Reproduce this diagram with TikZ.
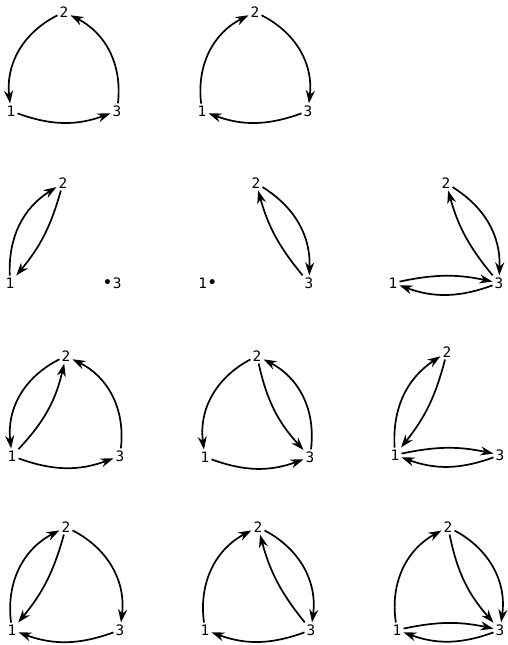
\documentclass[tikz,border=0pt]{standalone}
\usepackage{fontspec}
\newfontfamily\lblfont{DejaVu Sans Mono}
\usetikzlibrary{arrows.meta}
\tikzset{
  vtx/.style={inner sep=2pt, font=\lblfont\Large},
  arc/.style={->, line width=1.7pt}
}
\begin{document}
\begin{tikzpicture}[x=1pt, y=1pt, >={Stealth[length=13pt,width=9pt]}]
  \useasboundingbox (0,0) rectangle (507,645);
  \begin{scope}[shift={(64,534)}]
    \node[vtx] (a1) at (-53,0) {1};
    \node[vtx] (a2) at (0,99) {2};
    \node[vtx] (a3) at (53,0) {3};
    \draw[arc] (a2) to[bend right=35] (a1);
    \draw[arc] (a3) to[bend right=35] (a2);
    \draw[arc] (a1) to[bend right=20] (a3);
  \end{scope}
  \begin{scope}[shift={(255,534)}]
    \node[vtx] (b1) at (-53,0) {1};
    \node[vtx] (b2) at (0,99) {2};
    \node[vtx] (b3) at (53,0) {3};
    \draw[arc] (b1) to[bend left=35] (b2);
    \draw[arc] (b2) to[bend left=35] (b3);
    \draw[arc] (b3) to[bend left=20] (b1);
  \end{scope}
  \begin{scope}[shift={(63,362)}]
    \node[vtx] (c1) at (-53,0) {1};
    \node[vtx] (c2) at (0,100) {2};
    \node[vtx] (c3) at (49,0) {{\LARGE•}3};
    \draw[arc] (c1) to[bend left=30] (c2);
    \draw[arc] (c2) to[bend left=12] (c1);
  \end{scope}
  \begin{scope}[shift={(256,362)}]
    \node[vtx] (d1) at (-48,0) {1{\LARGE•}};
    \node[vtx] (d2) at (0,100) {2};
    \node[vtx] (d3) at (53,0) {3};
    \draw[arc] (d2) to[bend left=30] (d3);
    \draw[arc] (d3) to[bend left=12] (d2);
  \end{scope}
  \begin{scope}[shift={(446,362)}]
    \node[vtx] (e1) at (-53,0) {1};
    \node[vtx] (e2) at (0,100) {2};
    \node[vtx] (e3) at (53,0) {3};
    \draw[arc] (e3) to[bend left=12] (e2);
    \draw[arc] (e2) to[bend left=30] (e3);
    \draw[arc] (e1) to[bend left=12] (e3);
    \draw[arc] (e3) to[bend left=20] (e1);
  \end{scope}
  \begin{scope}[shift={(66,189)}]
    \node[vtx] (f1) at (-54,0) {1};
    \node[vtx] (f2) at (0,100) {2};
    \node[vtx] (f3) at (54,0) {3};
    \draw[arc] (f2) to[bend right=35] (f1);
    \draw[arc] (f1) to[bend right=15] (f2);
    \draw[arc] (f3) to[bend right=35] (f2);
    \draw[arc] (f1) to[bend right=20] (f3);
  \end{scope}
  \begin{scope}[shift={(257,188)}]
    \node[vtx] (g1) at (-52,0) {1};
    \node[vtx] (g2) at (0,101) {2};
    \node[vtx] (g3) at (53,0) {3};
    \draw[arc] (g2) to[bend right=35] (g1);
    \draw[arc] (g2) to[bend right=15] (g3);
    \draw[arc] (g3) to[bend right=35] (g2);
    \draw[arc] (g1) to[bend right=20] (g3);
  \end{scope}
  \begin{scope}[shift={(447,190)}]
    \node[vtx] (h1) at (-52,0) {1};
    \node[vtx] (h2) at (0,103) {2};
    \node[vtx] (h3) at (53,0) {3};
    \draw[arc] (h1) to[bend left=30] (h2);
    \draw[arc] (h2) to[bend left=12] (h1);
    \draw[arc] (h1) to[bend left=12] (h3);
    \draw[arc] (h3) to[bend left=20] (h1);
  \end{scope}
  \begin{scope}[shift={(66,15)}]
    \node[vtx] (i1) at (-54,0) {1};
    \node[vtx] (i2) at (0,103) {2};
    \node[vtx] (i3) at (54,0) {3};
    \draw[arc] (i1) to[bend left=35] (i2);
    \draw[arc] (i2) to[bend left=12] (i1);
    \draw[arc] (i2) to[bend left=35] (i3);
    \draw[arc] (i3) to[bend left=20] (i1);
  \end{scope}
  \begin{scope}[shift={(258,15)}]
    \node[vtx] (j1) at (-53,0) {1};
    \node[vtx] (j2) at (0,103) {2};
    \node[vtx] (j3) at (53,0) {3};
    \draw[arc] (j1) to[bend left=35] (j2);
    \draw[arc] (j3) to[bend left=12] (j2);
    \draw[arc] (j2) to[bend left=35] (j3);
    \draw[arc] (j3) to[bend left=20] (j1);
  \end{scope}
  \begin{scope}[shift={(448,15)}]
    \node[vtx] (k1) at (-51,0) {1};
    \node[vtx] (k2) at (0,103) {2};
    \node[vtx] (k3) at (52,0) {3};
    \draw[arc] (k1) to[bend left=35] (k2);
    \draw[arc] (k2) to[bend left=35] (k3);
    \draw[arc] (k2) to[bend right=15] (k3);
    \draw[arc] (k1) to[bend left=12] (k3);
    \draw[arc] (k3) to[bend left=20] (k1);
  \end{scope}
\end{tikzpicture}
\end{document}
